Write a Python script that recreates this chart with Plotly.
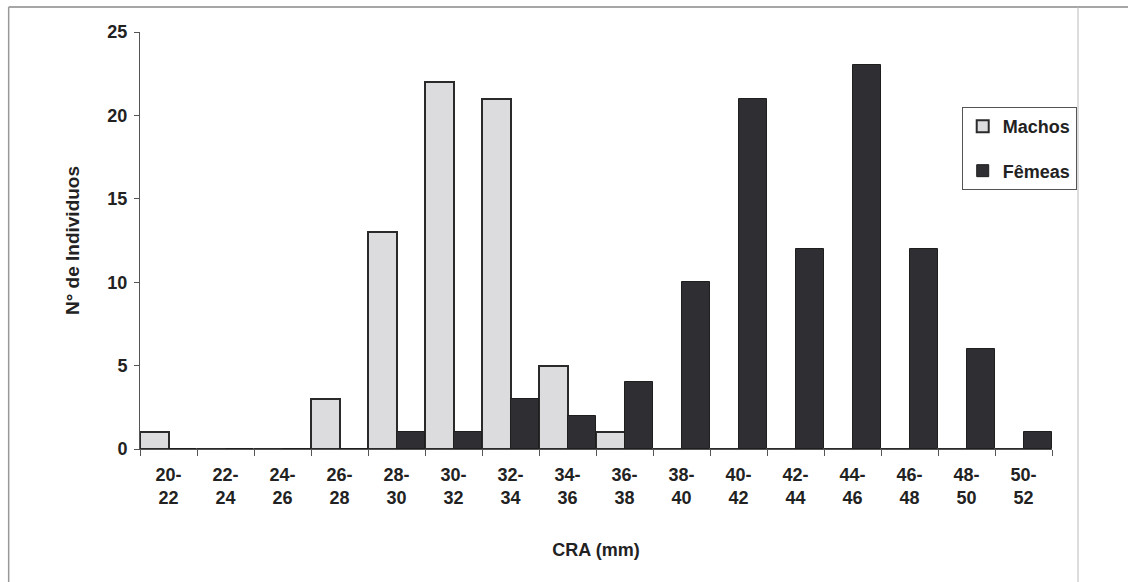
import plotly.graph_objects as go

categories = ["20-22", "22-24", "24-26", "26-28", "28-30", "30-32", "32-34", "34-36",
              "36-38", "38-40", "40-42", "42-44", "44-46", "46-48", "48-50", "50-52"]
machos = [1, 0, 0, 3, 13, 22, 21, 5, 1, 0, 0, 0, 0, 0, 0, 0]
femeas = [0, 0, 0, 0, 1, 1, 3, 2, 4, 10, 21, 12, 23, 12, 6, 1]
tick_text = [c.replace("-", "-<br>") for c in categories]
y_ticks = [0, 5, 10, 15, 20, 25]

FONT = "Arial, 'Liberation Sans', sans-serif"

fig = go.Figure()
fig.add_trace(go.Bar(
    name="Machos", x=categories, y=machos, legendgroup="m",
    marker=dict(color="#dcdcde", line=dict(color="#2a2a2a", width=2)),
))
fig.add_trace(go.Bar(
    name="Fêmeas", x=categories, y=femeas, legendgroup="f",
    marker=dict(color="#2f2f33", line=dict(color="#1e1e1e", width=1)),
))

fig.update_layout(
    width=1128, height=582, autosize=False,
    margin=dict(l=140, r=76, t=32, b=133),
    paper_bgcolor="white", plot_bgcolor="white",
    barmode="group", bargap=0, bargroupgap=0,
    font=dict(family=FONT, size=18, color="#222222", weight="bold"),
    showlegend=True,
    legend=dict(
        x=0.901, y=0.82, xanchor="left", yanchor="top",
        bgcolor="white", bordercolor="#555555", borderwidth=1,
        font=dict(family=FONT, size=18, color="#222222", weight="bold"),
        traceorder="grouped", tracegroupgap=18, itemwidth=30,
    ),
    xaxis=dict(
        type="category", categoryorder="array", categoryarray=categories,
        tickvals=categories, ticktext=tick_text,
        tickson="boundaries", ticks="outside", ticklen=6, tickcolor="#555555",
        ticklabelstandoff=9,
        showline=True, linecolor="#555555", linewidth=1,
        showgrid=False, zeroline=False,
        tickfont=dict(family=FONT, size=18, color="#222222", weight="bold"),
        title=dict(text="CRA (mm)", standoff=36,
                   font=dict(family=FONT, size=18, color="#222222", weight="bold")),
    ),
    yaxis=dict(
        range=[0, 25], tickvals=y_ticks, ticks="outside", ticklen=5, tickcolor="#555555",
        ticklabelstandoff=3,
        showline=True, linecolor="#555555", linewidth=1,
        showgrid=False, zeroline=False,
        tickfont=dict(family=FONT, size=18, color="#222222", weight="bold"),
        title=dict(text="N° de Individuos", standoff=22,
                   font=dict(family=FONT, size=19, color="#222222", weight="bold")),
    ),
    shapes=[
        dict(type="line", xref="paper", yref="paper", x0=-0.144, x1=1.2, y0=1.06, y1=1.06,
             line=dict(color="#888888", width=1.5)),
        dict(type="line", xref="paper", yref="paper", x0=-0.144, x1=-0.144, y0=1.06, y1=-0.32,
             line=dict(color="#999999", width=1.5)),
        dict(type="line", xref="paper", yref="paper", x0=1.0285, x1=1.0285, y0=1.06, y1=-0.32,
             line=dict(color="#bbbbbb", width=1)),
    ],
)

fig.write_html("out.html")
